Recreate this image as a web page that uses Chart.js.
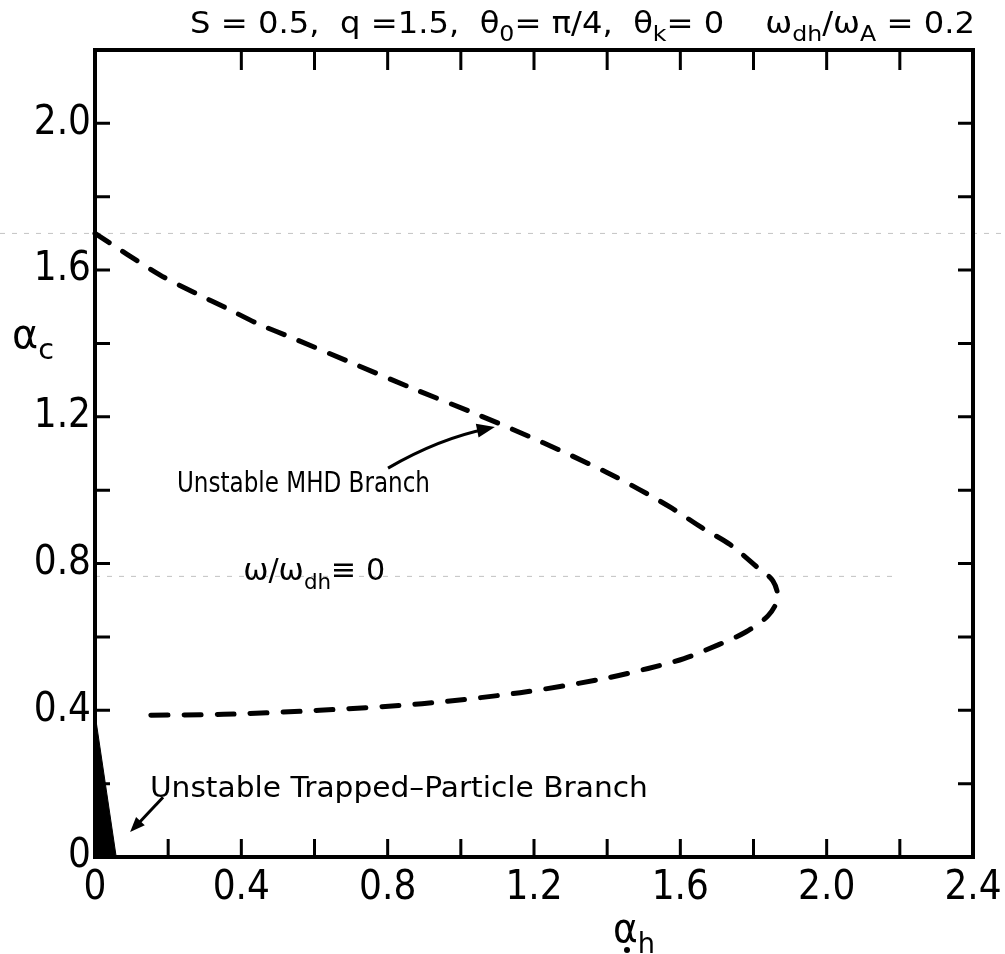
<!DOCTYPE html>
<html>
<head>
<meta charset="utf-8">
<script src="https://cdn.jsdelivr.net/npm/chart.js@4.4.1/dist/chart.umd.min.js"></script>
<style>
  html, body { margin: 0; padding: 0; background: #fff; }
  #wrap { width: 1005px; height: 954px; }
</style>
</head>
<body>
<div id="wrap"><canvas id="branchChart" width="1005" height="954"></canvas></div>
<script>
// dashed stability boundary, upper (MHD) part then lower part
const upperX = [0, 0.177, 0.279, 0.362, 0.445, 0.544, 0.695, 0.869, 1.051, 1.224, 1.398, 1.486, 1.577, 1.66, 1.737, 1.809, 1.853, 1.866];
const upperY = [1.70, 1.587, 1.535, 1.495, 1.454, 1.413, 1.35, 1.277, 1.204, 1.130, 1.049, 1.003, 0.951, 0.897, 0.851, 0.791, 0.753, 0.705];
const lowerX = [1.84, 1.78, 1.705, 1.61, 1.512, 1.38, 1.162, 0.894, 0.614, 0.351, 0.11];
const lowerY = [0.658, 0.614, 0.579, 0.541, 0.514, 0.484, 0.448, 0.418, 0.40, 0.389, 0.386];

// trapped-particle branch (filled sliver near the origin)
const trapX = [0, 0.058];
const trapY = [0.39, 0];

// axes
const xLabels = [0, 0.4, 0.8, 1.2, 1.6, 2.0, 2.4];
const xLabelText = ['0', '0.4', '0.8', '1.2', '1.6', '2.0', '2.4'];
const yLabels = [0, 0.4, 0.8, 1.2, 1.6, 2.0];
const yLabelText = ['0', '0.4', '0.8', '1.2', '1.6', '2.0'];
const bottomTicks = [0.2, 0.4, 0.6, 0.8, 1.0, 1.2, 1.4, 1.6, 1.8, 2.0, 2.2];
const topTicks = [0.4, 0.6, 0.8, 1.0, 1.2, 1.4, 1.6, 1.8, 2.0, 2.2];
const sideTicks = [0.2, 0.4, 0.6, 0.8, 1.0, 1.2, 1.4, 1.6, 1.8, 2.0];

const FONT = '"Liberation Sans Narrow", "DejaVu Sans Condensed", "Liberation Sans", sans-serif';
const TEXT_FONT = '"DejaVu Sans", "Liberation Sans", sans-serif';

const curve = upperX.map((x, i) => ({ x: x, y: upperY[i] }))
  .concat(lowerX.map((x, i) => ({ x: x, y: lowerY[i] })));
const trap = trapX.map((x, i) => ({ x: x, y: trapY[i] }));

// draws a run of text pieces, some as subscripts, squeezed to a given width
function richText(ctx, parts, left, baseline, size, width, family) {
  const fam = family || TEXT_FONT;
  ctx.save();
  const subSize = Math.round(size * 0.72);
  let total = 0;
  parts.forEach(p => {
    ctx.font = (p.sub ? subSize : size) + 'px ' + fam;
    total += ctx.measureText(p.t).width;
  });
  const sx = width ? width / total : 1;
  ctx.translate(left, baseline);
  ctx.scale(sx, 1);
  ctx.fillStyle = '#000';
  ctx.textBaseline = 'alphabetic';
  let x = 0;
  parts.forEach(p => {
    ctx.font = (p.sub ? subSize : size) + 'px ' + fam;
    ctx.fillText(p.t, x, p.sub ? size * 0.28 : 0);
    x += ctx.measureText(p.t).width;
  });
  ctx.restore();
}

function arrowHead(ctx, fromX, fromY, toX, toY, len, half) {
  const a = Math.atan2(toY - fromY, toX - fromX);
  ctx.beginPath();
  ctx.moveTo(toX, toY);
  ctx.lineTo(toX - len * Math.cos(a) + half * Math.sin(a), toY - len * Math.sin(a) - half * Math.cos(a));
  ctx.lineTo(toX - len * Math.cos(a) - half * Math.sin(a), toY - len * Math.sin(a) + half * Math.cos(a));
  ctx.closePath();
  ctx.fill();
}

const decor = {
  id: 'decor',
  beforeDatasetsDraw(chart) {
    // faint fold marks from the printed page
    const { ctx, chartArea: a, scales: { x, y } } = chart;
    ctx.save();
    ctx.strokeStyle = 'rgba(120,120,120,0.45)';
    ctx.lineWidth = 1;
    ctx.setLineDash([5, 7]);
    ctx.beginPath();
    ctx.moveTo(0, y.getPixelForValue(1.70));
    ctx.lineTo(chart.width, y.getPixelForValue(1.70));
    ctx.moveTo(a.left, y.getPixelForValue(0.765));
    ctx.lineTo(x.getPixelForValue(2.19), y.getPixelForValue(0.765));
    ctx.stroke();
    ctx.restore();
  },
  afterDatasetsDraw(chart) {
    const { ctx, chartArea: a, scales: { x, y } } = chart;
    ctx.save();
    ctx.strokeStyle = '#000';
    ctx.fillStyle = '#000';
    ctx.lineCap = 'butt';

    // frame
    ctx.lineWidth = 4;
    ctx.strokeRect(a.left, a.top, a.right - a.left, a.bottom - a.top);

    // inward ticks
    ctx.lineWidth = 3;
    ctx.beginPath();
    bottomTicks.forEach(v => {
      const px = x.getPixelForValue(v);
      ctx.moveTo(px, a.bottom); ctx.lineTo(px, a.bottom - 18);
    });
    topTicks.forEach(v => {
      const px = x.getPixelForValue(v);
      ctx.moveTo(px, a.top); ctx.lineTo(px, a.top + 20);
    });
    sideTicks.forEach(v => {
      const py = y.getPixelForValue(v);
      ctx.moveTo(a.left, py); ctx.lineTo(a.left + 15, py);
      ctx.moveTo(a.right, py); ctx.lineTo(a.right - 15, py);
    });
    ctx.stroke();

    // arrow to the MHD branch
    ctx.lineWidth = 3;
    const t0 = { x: x.getPixelForValue(0.801), y: y.getPixelForValue(1.060) };
    const c0 = { x: x.getPixelForValue(0.943), y: y.getPixelForValue(1.142) };
    const h0 = { x: x.getPixelForValue(1.093), y: y.getPixelForValue(1.172) };
    ctx.beginPath();
    ctx.moveTo(t0.x, t0.y);
    ctx.quadraticCurveTo(c0.x, c0.y, h0.x - 6, h0.y + 1.5);
    ctx.stroke();
    arrowHead(ctx, c0.x, c0.y, h0.x, h0.y, 18, 7);

    // arrow to the trapped-particle branch
    const t1 = { x: x.getPixelForValue(0.186), y: y.getPixelForValue(0.163) };
    const h1 = { x: x.getPixelForValue(0.096), y: y.getPixelForValue(0.068) };
    ctx.beginPath();
    ctx.moveTo(t1.x, t1.y);
    ctx.lineTo(h1.x + 4, h1.y - 4);
    ctx.stroke();
    arrowHead(ctx, t1.x, t1.y, h1.x, h1.y, 15, 6);
    ctx.restore();

    // labels inside the frame
    richText(ctx, [{ t: 'Unstable MHD Branch' }],
      x.getPixelForValue(0.224), y.getPixelForValue(0.995), 28, 253);
    richText(ctx, [{ t: 'ω/ω' }, { t: 'dh', sub: true }, { t: '≡ 0' }],
      x.getPixelForValue(0.405), y.getPixelForValue(0.755), 31, 142);
    richText(ctx, [{ t: 'Unstable Trapped–Particle Branch' }],
      x.getPixelForValue(0.15), y.getPixelForValue(0.163), 28, 498);

    // heading above the frame
    richText(ctx, [
      { t: 'S = 0.5,  q =1.5,  θ' }, { t: '0', sub: true }, { t: '= π/4,  θ' }, { t: 'k', sub: true },
      { t: '= 0    ω' }, { t: 'dh', sub: true }, { t: '/ω' }, { t: 'A', sub: true }, { t: ' = 0.2' }
    ], 190, 33, 30, 785);

    // axis titles
    richText(ctx, [{ t: 'α' }, { t: 'c', sub: true }], 12, 348, 40, 42);
    richText(ctx, [{ t: 'α' }, { t: 'h', sub: true }], 613, 942, 40, 42);
    ctx.save();
    ctx.fillStyle = '#000';
    ctx.beginPath();
    ctx.arc(627, 950, 3, 0, Math.PI * 2);
    ctx.fill();
    ctx.restore();
  }
};

new Chart(document.getElementById('branchChart'), {
  type: 'scatter',
  data: {
    datasets: [
      {
        label: 'boundary',
        data: curve,
        showLine: true,
        borderColor: '#000',
        borderWidth: 5,
        borderDash: [17, 16],
        borderCapStyle: 'round',
        tension: 0.3,
        pointRadius: 0,
        fill: false,
        clip: false
      },
      {
        label: 'trapped',
        data: trap,
        showLine: true,
        borderColor: '#000',
        borderWidth: 1,
        backgroundColor: '#000',
        pointRadius: 0,
        fill: 'origin'
      }
    ]
  },
  options: {
    responsive: false,
    animation: false,
    layout: { padding: { top: 50, right: 32, left: 0, bottom: 0 } },
    plugins: { legend: { display: false }, tooltip: { enabled: false } },
    scales: {
      x: {
        type: 'linear',
        min: 0,
        max: 2.4,
        border: { display: false },
        grid: { display: false, drawTicks: false },
        afterBuildTicks: s => { s.ticks = xLabels.map(v => ({ value: v })); },
        afterFit: s => { s.height = 97; s.paddingLeft = 0; s.paddingRight = 0; },
        ticks: {
          padding: 8,
          color: '#000',
          maxRotation: 0,
          autoSkip: false,
          font: { family: FONT, size: 40 },
          callback: v => xLabelText[xLabels.indexOf(v)]
        }
      },
      y: {
        type: 'linear',
        min: 0,
        max: 2.2,
        border: { display: false },
        grid: { display: false, drawTicks: false },
        afterBuildTicks: s => { s.ticks = yLabels.map(v => ({ value: v })); },
        afterFit: s => { s.width = 95; s.paddingTop = 0; s.paddingBottom = 0; },
        ticks: {
          padding: 4,
          color: '#000',
          autoSkip: false,
          font: { family: FONT, size: 40 },
          callback: v => yLabelText[yLabels.indexOf(v)]
        }
      }
    }
  },
  plugins: [decor]
});
</script>
</body>
</html>
